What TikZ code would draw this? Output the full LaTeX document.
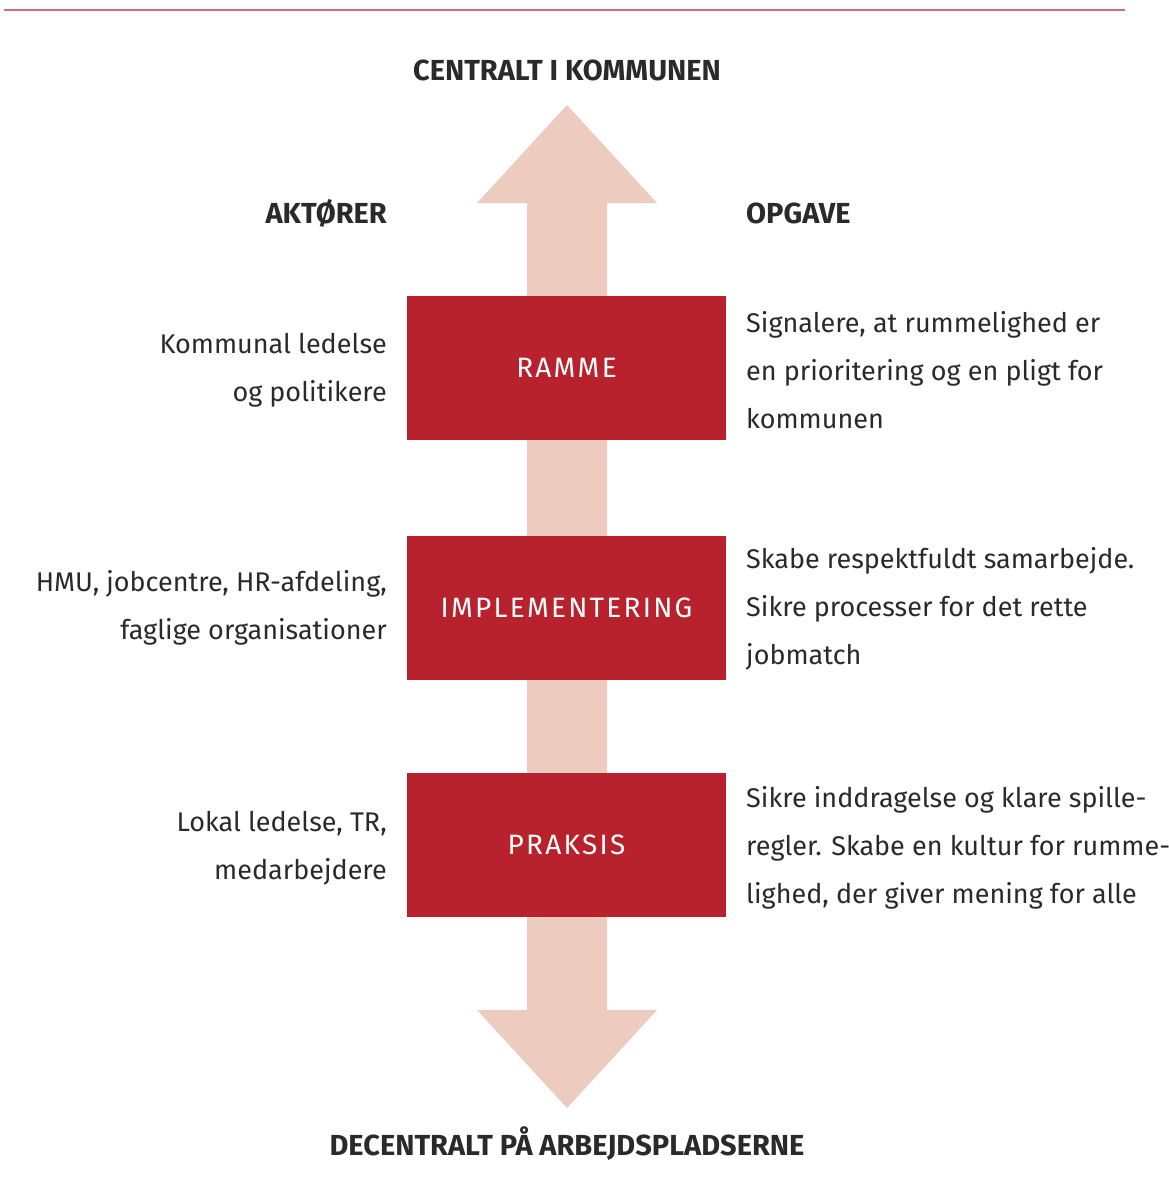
\documentclass[tikz,border=0pt]{standalone}
\usepackage{fontspec}
\setmainfont{Fira Sans}
\usepackage{tikz}

\definecolor{boxred}{HTML}{B8222C}
\definecolor{arrowpink}{HTML}{EDCBBF}
\definecolor{linepink}{HTML}{D86A7A}
\definecolor{textgray}{HTML}{2A2A2A}

\begin{document}
\begin{tikzpicture}[x=1pt,y=-1pt,
    niveau/.style={fill=boxred,minimum width=319pt,minimum height=144pt,inner sep=0pt,
      text=white,font={\fontsize{28}{30}\selectfont\addfontfeatures{LetterSpace=8}}},
    overskrift/.style={text=textgray,inner sep=0pt,font={\fontsize{29}{30}\selectfont\bfseries}},
    aktor/.style={text=textgray,inner sep=0pt,anchor=east,align=right,font={\fontsize{27}{48}\selectfont}},
    opgave/.style={text=textgray,inner sep=0pt,anchor=west,align=left,font={\fontsize{27}{48}\selectfont}}]
          \useasboundingbox (0,0) rectangle (1168,1197);
          \draw[linepink,line width=2pt] (4,10) -- (1125,10);
          % pil
          \fill[arrowpink] (567,105) -- (657,203) -- (607,203) -- (607,1010) -- (657,1010)
            -- (567,1108) -- (477,1010) -- (527,1010) -- (527,203) -- (477,203) -- cycle;
          \node[overskrift,anchor=base] (top) at (567,80) {CENTRALT I KOMMUNEN};
          \node[overskrift,anchor=base] (bund) at (567,1155) {DECENTRALT PÅ ARBEJDSPLADSERNE};
          \node[overskrift,anchor=base east] (aktorer) at (387,223) {AKTØRER};
          \node[overskrift,anchor=base west] (opg) at (746,223) {OPGAVE};
          \node[niveau] (ramme) at (566.5,368) {RAMME};
          \node[niveau] (impl) at (566.5,607.5) {IMPLEMENTERING};
          \node[niveau] (praksis) at (566.5,844.5) {PRAKSIS};
          \node[aktor] (a1) at (387,370) {Kommunal ledelse\\og politikere};
          \node[aktor] (a2) at (387,608) {HMU, jobcentre, HR-afdeling,\\faglige organisationer};
          \node[aktor] (a3) at (387,848) {Lokal ledelse, TR,\\medarbejdere};
          \node[opgave] (o1) at (746,370) {Signalere, at rummelighed er\\en prioritering og en pligt for\\kommunen};
          \node[opgave] (o2) at (746,609) {Skabe respektfuldt samarbejde.\\Sikre processer for det rette\\jobmatch};
          \node[opgave] (o3) at (746,848) {Sikre inddragelse og klare spille-\\regler. Skabe en kultur for rumme-\\lighed, der giver mening for alle};
        \end{tikzpicture}
\end{document}
